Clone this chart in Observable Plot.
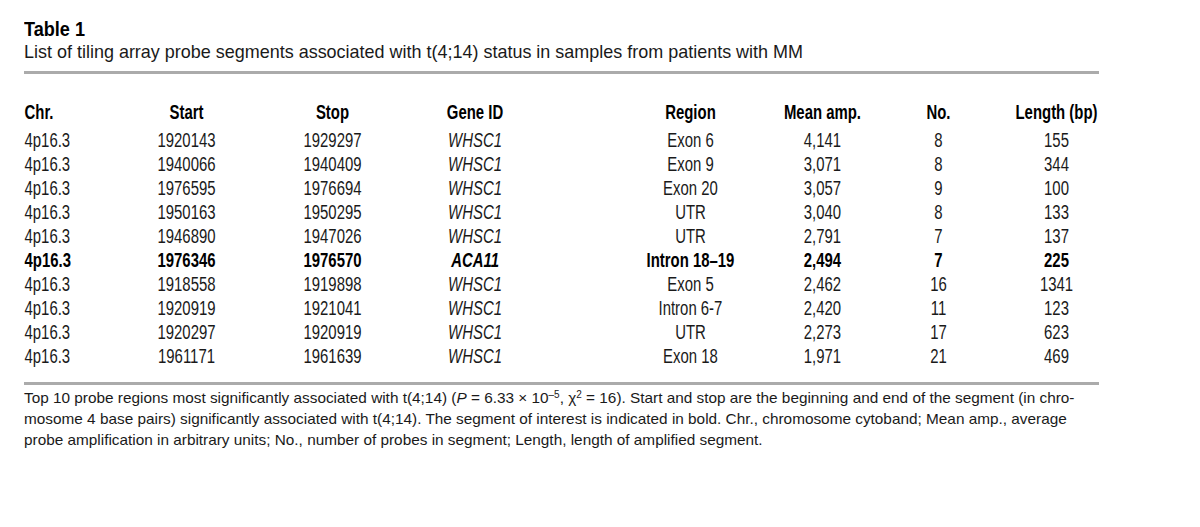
<!DOCTYPE html>
<html>
<head>
<meta charset="utf-8">
<script src="https://cdn.jsdelivr.net/npm/d3@7"></script>
<script src="https://cdn.jsdelivr.net/npm/@observablehq/plot@0.6"></script>
<style>
  html, body { margin: 0; padding: 0; background: #fff; }
  #page { position: relative; width: 1200px; height: 527px; overflow: hidden; color: #111; }
  .abs { position: absolute; left: 24px; white-space: nowrap; transform-origin: 0 0; }
  #title { top: 18px; font: bold 20.5px/21px "Liberation Sans", Arial, sans-serif; color: #000; }
  #subtitle { top: 42px; font: 18.6px/19px "Liberation Sans", Arial, sans-serif; color: #1a1a1a; }
  .rule { position: absolute; left: 24px; width: 1075px; height: 3px; background: #ababab; }
  #rule1 { top: 71px; }
  #rule2 { top: 382px; }
  #chart { position: absolute; left: 0; top: 90px; }
  #caption { top: 388px; font: 15.35px/20.8px "Liberation Sans", Arial, sans-serif; color: #1a1a1a; }
  #caption sup { font-size: 10px; line-height: 0; vertical-align: 5px; }
</style>
</head>
<body>
<div id="page">
  <div id="title" class="abs">Table 1</div>
  <div id="subtitle" class="abs">List of tiling array probe segments associated with t(4;14) status in samples from patients with MM</div>
  <div id="rule1" class="rule"></div>
  <div id="chart"></div>
  <div id="rule2" class="rule"></div>
  <div id="caption" class="abs">Top 10 probe regions most significantly associated with t(4;14) (<i>P</i> = 6.33 × 10<sup>–5</sup>, χ<sup>2</sup> = 16). Start and stop are the beginning and end of the segment (in chro-<br>mosome 4 base pairs) significantly associated with t(4;14). The segment of interest is indicated in bold. Chr., chromosome cytoband; Mean amp., average<br>probe amplification in arbitrary units; No., number of probes in segment; Length, length of amplified segment.</div>
</div>
<script>
// ---- data ----
const columns = ["Chr.", "Start", "Stop", "Gene ID", "Region", "Mean amp.", "No.", "Length (bp)"];
const chr = ["4p16.3", "4p16.3", "4p16.3", "4p16.3", "4p16.3", "4p16.3", "4p16.3", "4p16.3", "4p16.3", "4p16.3"];
const start = [1920143, 1940066, 1976595, 1950163, 1946890, 1976346, 1918558, 1920919, 1920297, 1961171];
const stop = [1929297, 1940409, 1976694, 1950295, 1947026, 1976570, 1919898, 1921041, 1920919, 1961639];
const geneId = ["WHSC1", "WHSC1", "WHSC1", "WHSC1", "WHSC1", "ACA11", "WHSC1", "WHSC1", "WHSC1", "WHSC1"];
const region = ["Exon 6", "Exon 9", "Exon 20", "UTR", "UTR", "Intron 18–19", "Exon 5", "Intron 6-7", "UTR", "Exon 18"];
const meanAmp = [4141, 3071, 3057, 3040, 2791, 2494, 2462, 2420, 2273, 1971];
const probeCount = [8, 8, 9, 8, 7, 7, 16, 11, 17, 21];
const lengthBp = [155, 344, 100, 133, 137, 225, 1341, 123, 623, 469];
const highlightedRows = [5];

// ---- layout (table column anchors, in % of table width) ----
const columnAt = {"Chr.": 0, "Start": 15.07, "Stop": 28.65, "Gene ID": 41.91, "Region": 61.95, "Mean amp.": 74.23, "No.": 85.02, "Length (bp)": 96.0};
const condense = 0.765; // condensed-face imitation

// fit the title / subtitle widths (condensed type in the original)
function squeeze(el, targetWidth) {
  const w = el.getBoundingClientRect().width;
  el.style.transform = `scaleX(${targetWidth / w})`;
}
squeeze(document.getElementById("title"), 61);
squeeze(document.getElementById("subtitle"), 779);

const comma = d3.format(",");
const rows = d3.range(chr.length);
const cells = [];
for (const i of rows) {
  const vals = [chr[i], String(start[i]), String(stop[i]), geneId[i], region[i], comma(meanAmp[i]), String(probeCount[i]), String(lengthBp[i])];
  columns.forEach((c, j) => cells.push({row: i, col: c, text: vals[j], bold: highlightedRows.includes(i)}));
}

const marks = [];
// header
for (const left of [true, false]) {
  marks.push(Plot.text(columns.filter(c => (c === "Chr.") === left), {
    x: c => columnAt[c], frameAnchor: "top", lineAnchor: "middle", dy: -28,
    text: d => d, textAnchor: left ? "start" : "middle",
    fontWeight: "bold", fontSize: 19.5, fill: "#000"
  }));
}
// body cells
for (const bold of [false, true]) {
  for (const kind of ["left", "center", "italic"]) {
    marks.push(Plot.text(cells.filter(d => d.bold === bold &&
        (kind === "left" ? d.col === "Chr." : kind === "italic" ? d.col === "Gene ID" : (d.col !== "Chr." && d.col !== "Gene ID"))), {
      x: d => columnAt[d.col], y: "row", text: "text",
      textAnchor: kind === "left" ? "start" : "middle",
      fontStyle: kind === "italic" ? "italic" : "normal",
      fontWeight: bold ? "bold" : "normal",
      fontSize: 19.5, fill: bold ? "#000" : "#1a1a1a"
    }));
  }
}

const chart = Plot.plot({
  width: 1200, height: 280,
  marginLeft: 0, marginRight: 0, marginTop: 50, marginBottom: 14,
  x: {type: "linear", domain: [0, 100], range: [24, 1099], axis: null},
  y: {type: "point", domain: rows, padding: 0, axis: null},
  style: {fontFamily: '"Liberation Sans", Arial, sans-serif', background: "transparent", overflow: "visible"},
  marks
});
// narrow the glyphs horizontally about each text's anchor
chart.querySelectorAll("text").forEach(t => {
  const tr = t.getAttribute("transform");
  if (tr) t.setAttribute("transform", `${tr} scale(${condense},1)`);
  else {
    const x = +t.getAttribute("x") || 0;
    t.setAttribute("transform", `translate(${x},0) scale(${condense},1) translate(${-x},0)`);
  }
});
document.getElementById("chart").appendChild(chart);
</script>
</body>
</html>
